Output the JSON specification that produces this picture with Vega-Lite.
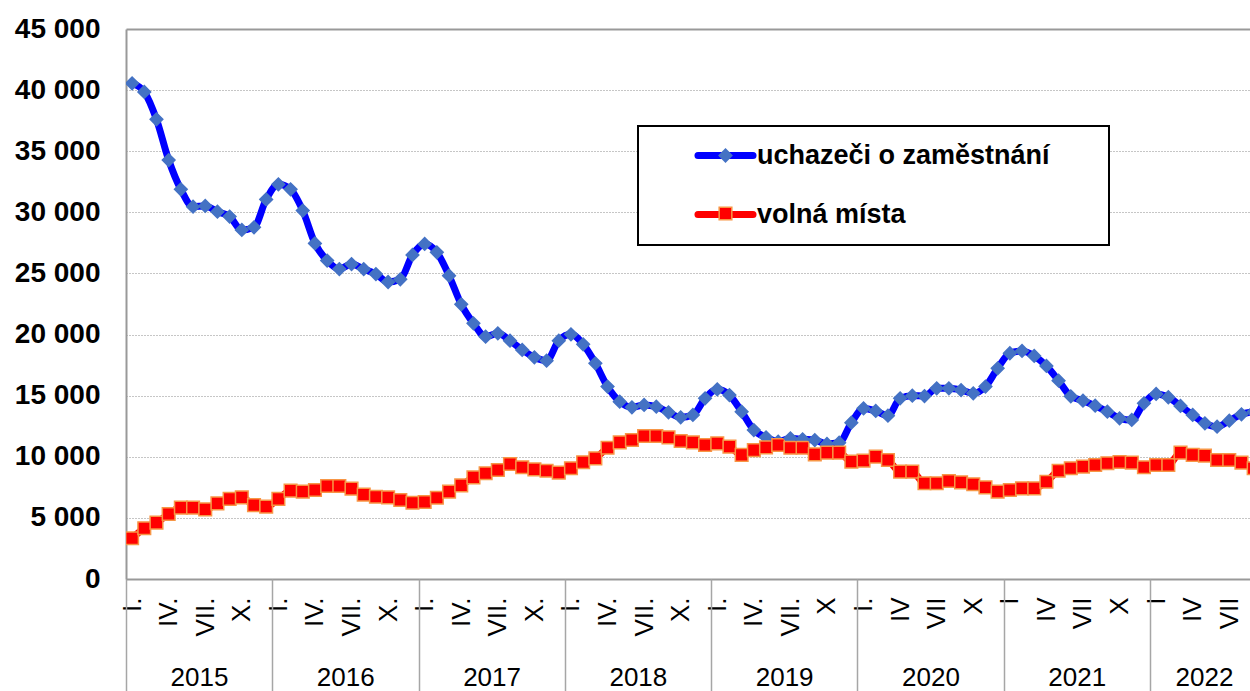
{
  "$schema": "https://vega.github.io/schema/vega-lite/v6.json",
  "width": 1124,
  "height": 550,
  "autosize": {"type": "none"},
  "padding": {"left": 126, "top": 29, "right": 0, "bottom": 112},
  "background": "white",
  "config": {"view": {"stroke": null}, "font": "Liberation Sans"},
  "data": {"values": [
    {"i":0,"rok":2015,"mesic":1,"uchazeči o zaměstnání":40560,"volná místa":3330},
    {"i":1,"rok":2015,"mesic":2,"uchazeči o zaměstnání":39850,"volná místa":4150},
    {"i":2,"rok":2015,"mesic":3,"uchazeči o zaměstnání":37610,"volná místa":4610},
    {"i":3,"rok":2015,"mesic":4,"uchazeči o zaměstnání":34280,"volná místa":5320},
    {"i":4,"rok":2015,"mesic":5,"uchazeči o zaměstnání":31880,"volná místa":5840},
    {"i":5,"rok":2015,"mesic":6,"uchazeči o zaměstnání":30460,"volná místa":5840},
    {"i":6,"rok":2015,"mesic":7,"uchazeči o zaměstnání":30520,"volná místa":5700},
    {"i":7,"rok":2015,"mesic":8,"uchazeči o zaměstnání":30050,"volná místa":6190},
    {"i":8,"rok":2015,"mesic":9,"uchazeči o zaměstnání":29650,"volná místa":6550},
    {"i":9,"rok":2015,"mesic":10,"uchazeči o zaměstnání":28560,"volná místa":6680},
    {"i":10,"rok":2015,"mesic":11,"uchazeči o zaměstnání":28770,"volná místa":6050},
    {"i":11,"rok":2015,"mesic":12,"uchazeči o zaměstnání":31060,"volná místa":5920},
    {"i":12,"rok":2016,"mesic":1,"uchazeči o zaměstnání":32290,"volná místa":6550},
    {"i":13,"rok":2016,"mesic":2,"uchazeči o zaměstnání":31880,"volná místa":7230},
    {"i":14,"rok":2016,"mesic":3,"uchazeči o zaměstnání":30140,"volná místa":7150},
    {"i":15,"rok":2016,"mesic":4,"uchazeči o zaměstnání":27460,"volná místa":7280},
    {"i":16,"rok":2016,"mesic":5,"uchazeči o zaměstnání":26050,"volná místa":7610},
    {"i":17,"rok":2016,"mesic":6,"uchazeči o zaměstnání":25360,"volná místa":7610},
    {"i":18,"rok":2016,"mesic":7,"uchazeči o zaměstnání":25770,"volná místa":7390},
    {"i":19,"rok":2016,"mesic":8,"uchazeči o zaměstnání":25360,"volná místa":6900},
    {"i":20,"rok":2016,"mesic":9,"uchazeči o zaměstnání":24950,"volná místa":6730},
    {"i":21,"rok":2016,"mesic":10,"uchazeči o zaměstnání":24300,"volná místa":6680},
    {"i":22,"rok":2016,"mesic":11,"uchazeči o zaměstnání":24520,"volná místa":6460},
    {"i":23,"rok":2016,"mesic":12,"uchazeči o zaměstnání":26510,"volná místa":6240},
    {"i":24,"rok":2017,"mesic":1,"uchazeči o zaměstnání":27410,"volná místa":6300},
    {"i":25,"rok":2017,"mesic":2,"uchazeči o zaměstnání":26730,"volná místa":6650},
    {"i":26,"rok":2017,"mesic":3,"uchazeči o zaměstnání":24820,"volná místa":7150},
    {"i":27,"rok":2017,"mesic":4,"uchazeči o zaměstnání":22470,"volná místa":7660},
    {"i":28,"rok":2017,"mesic":5,"uchazeči o zaměstnání":20920,"volná místa":8320},
    {"i":29,"rok":2017,"mesic":6,"uchazeči o zaměstnání":19830,"volná místa":8650},
    {"i":30,"rok":2017,"mesic":7,"uchazeči o zaměstnání":20100,"volná místa":8920},
    {"i":31,"rok":2017,"mesic":8,"uchazeči o zaměstnání":19500,"volná místa":9410},
    {"i":32,"rok":2017,"mesic":9,"uchazeči o zaměstnání":18740,"volná místa":9140},
    {"i":33,"rok":2017,"mesic":10,"uchazeči o zaměstnání":18140,"volná místa":8970},
    {"i":34,"rok":2017,"mesic":11,"uchazeči o zaměstnání":17860,"volná místa":8860},
    {"i":35,"rok":2017,"mesic":12,"uchazeči o zaměstnání":19500,"volná místa":8700},
    {"i":36,"rok":2018,"mesic":1,"uchazeči o zaměstnání":20020,"volná místa":9060},
    {"i":37,"rok":2018,"mesic":2,"uchazeči o zaměstnání":19200,"volná místa":9550},
    {"i":38,"rok":2018,"mesic":3,"uchazeči o zaměstnání":17650,"volná místa":9870},
    {"i":39,"rok":2018,"mesic":4,"uchazeči o zaměstnání":15740,"volná místa":10740},
    {"i":40,"rok":2018,"mesic":5,"uchazeči o zaměstnání":14510,"volná místa":11180},
    {"i":41,"rok":2018,"mesic":6,"uchazeči o zaměstnání":14050,"volná místa":11370},
    {"i":42,"rok":2018,"mesic":7,"uchazeči o zaměstnání":14240,"volná místa":11700},
    {"i":43,"rok":2018,"mesic":8,"uchazeči o zaměstnání":14100,"volná místa":11700},
    {"i":44,"rok":2018,"mesic":9,"uchazeči o zaměstnání":13640,"volná místa":11590},
    {"i":45,"rok":2018,"mesic":10,"uchazeči o zaměstnání":13230,"volná místa":11290},
    {"i":46,"rok":2018,"mesic":11,"uchazeči o zaměstnání":13420,"volná místa":11180},
    {"i":47,"rok":2018,"mesic":12,"uchazeči o zaměstnání":14780,"volná místa":10960},
    {"i":48,"rok":2019,"mesic":1,"uchazeči o zaměstnání":15520,"volná místa":11100},
    {"i":49,"rok":2019,"mesic":2,"uchazeči o zaměstnání":15050,"volná místa":10830},
    {"i":50,"rok":2019,"mesic":3,"uchazeči o zaměstnání":13690,"volná místa":10150},
    {"i":51,"rok":2019,"mesic":4,"uchazeči o zaměstnání":12190,"volná místa":10550},
    {"i":52,"rok":2019,"mesic":5,"uchazeči o zaměstnání":11590,"volná místa":10770},
    {"i":53,"rok":2019,"mesic":6,"uchazeči o zaměstnání":11240,"volná místa":10960},
    {"i":54,"rok":2019,"mesic":7,"uchazeči o zaměstnání":11510,"volná místa":10740},
    {"i":55,"rok":2019,"mesic":8,"uchazeči o zaměstnání":11430,"volná místa":10740},
    {"i":56,"rok":2019,"mesic":9,"uchazeči o zaměstnání":11370,"volná místa":10200},
    {"i":57,"rok":2019,"mesic":10,"uchazeči o zaměstnání":11050,"volná místa":10340},
    {"i":58,"rok":2019,"mesic":11,"uchazeči o zaměstnání":11150,"volná místa":10340},
    {"i":59,"rok":2019,"mesic":12,"uchazeči o zaměstnání":12790,"volná místa":9600},
    {"i":60,"rok":2020,"mesic":1,"uchazeči o zaměstnání":13960,"volná místa":9680},
    {"i":61,"rok":2020,"mesic":2,"uchazeči o zaměstnání":13750,"volná místa":10010},
    {"i":62,"rok":2020,"mesic":3,"uchazeči o zaměstnání":13360,"volná místa":9740},
    {"i":63,"rok":2020,"mesic":4,"uchazeči o zaměstnání":14780,"volná místa":8780},
    {"i":64,"rok":2020,"mesic":5,"uchazeči o zaměstnání":15000,"volná místa":8780},
    {"i":65,"rok":2020,"mesic":6,"uchazeči o zaměstnání":14970,"volná místa":7830},
    {"i":66,"rok":2020,"mesic":7,"uchazeči o zaměstnání":15600,"volná místa":7830},
    {"i":67,"rok":2020,"mesic":8,"uchazeči o zaměstnání":15600,"volná místa":8020},
    {"i":68,"rok":2020,"mesic":9,"uchazeči o zaměstnání":15460,"volná místa":7910},
    {"i":69,"rok":2020,"mesic":10,"uchazeči o zaměstnání":15190,"volná místa":7750},
    {"i":70,"rok":2020,"mesic":11,"uchazeči o zaměstnání":15740,"volná místa":7500},
    {"i":71,"rok":2020,"mesic":12,"uchazeči o zaměstnání":17240,"volná místa":7150},
    {"i":72,"rok":2021,"mesic":1,"uchazeči o zaměstnání":18470,"volná místa":7280},
    {"i":73,"rok":2021,"mesic":2,"uchazeči o zaměstnání":18660,"volná místa":7420},
    {"i":74,"rok":2021,"mesic":3,"uchazeči o zaměstnání":18250,"volná místa":7420},
    {"i":75,"rok":2021,"mesic":4,"uchazeči o zaměstnání":17430,"volná místa":7960},
    {"i":76,"rok":2021,"mesic":5,"uchazeči o zaměstnání":16230,"volná místa":8860},
    {"i":77,"rok":2021,"mesic":6,"uchazeči o zaměstnání":14950,"volná místa":9060},
    {"i":78,"rok":2021,"mesic":7,"uchazeči o zaměstnání":14590,"volná místa":9190},
    {"i":79,"rok":2021,"mesic":8,"uchazeči o zaměstnání":14180,"volná místa":9330},
    {"i":80,"rok":2021,"mesic":9,"uchazeči o zaměstnání":13690,"volná místa":9470},
    {"i":81,"rok":2021,"mesic":10,"uchazeči o zaměstnání":13150,"volná místa":9570},
    {"i":82,"rok":2021,"mesic":11,"uchazeči o zaměstnání":13010,"volná místa":9520},
    {"i":83,"rok":2021,"mesic":12,"uchazeči o zaměstnání":14370,"volná místa":9140},
    {"i":84,"rok":2022,"mesic":1,"uchazeči o zaměstnání":15140,"volná místa":9330},
    {"i":85,"rok":2022,"mesic":2,"uchazeči o zaměstnání":14870,"volná místa":9330},
    {"i":86,"rok":2022,"mesic":3,"uchazeči o zaměstnání":14160,"volná místa":10340},
    {"i":87,"rok":2022,"mesic":4,"uchazeči o zaměstnání":13420,"volná místa":10150},
    {"i":88,"rok":2022,"mesic":5,"uchazeči o zaměstnání":12740,"volná místa":10090},
    {"i":89,"rok":2022,"mesic":6,"uchazeči o zaměstnání":12460,"volná místa":9740},
    {"i":90,"rok":2022,"mesic":7,"uchazeči o zaměstnání":12950,"volná místa":9740},
    {"i":91,"rok":2022,"mesic":8,"uchazeči o zaměstnání":13470,"volná místa":9520},
    {"i":92,"rok":2022,"mesic":9,"uchazeči o zaměstnání":13690,"volná místa":9060}
  ]},
  "transform": [{"fold": ["uchazeči o zaměstnání", "volná místa"], "as": ["rada", "pocet"]}],
  "encoding": {
    "y": {"field": "pocet", "type": "quantitative",
      "scale": {"domain": [0, 45000], "nice": false, "zero": true},
      "axis": {"title": null, "values": [0,5000,10000,15000,20000,25000,30000,35000,40000,45000],
        "labelExpr": "replace(format(datum.value, ','), ',', ' ')",
        "grid": true,
        "gridColor": {"condition": {"test": "datum.value == 45000", "value": "#999999"}, "value": "#8c8c8c"},
        "gridDash": {"condition": {"test": "datum.value == 45000", "value": []}, "value": [1, 2]},
        "gridWidth": {"condition": {"test": "datum.value == 45000", "value": 2}, "value": 1},
        "ticks": false, "domain": true, "domainColor": "#999999", "domainWidth": 2,
        "labelFont": "Liberation Sans", "labelFontSize": 28, "labelFontWeight": "bold", "labelColor": "black",
        "labelPadding": 26, "labelBaseline": "middle", "labelFlush": false, "labelOverlap": false}}
  },
  "layer": [
    {
      "mark": {"type": "line", "interpolate": "monotone", "strokeWidth": 7, "strokeJoin": "round", "strokeCap": "round", "clip": true},
      "encoding": {
        "x": {"field": "i", "type": "quantitative",
          "scale": {"domain": [-0.5, 91.7], "nice": false, "zero": false},
          "axis": {"orient": "bottom", "title": null, "grid": false,
            "values": [0,3,6,9,12,15,18,21,24,27,30,33,36,39,42,45,48,51,54,57,60,63,66,69,72,75,78,81,84,87,90],
            "labelExpr": "(['I','IV','VII','X'][(datum.value % 12) / 3]) + ((datum.value <= 54 || datum.value == 60) ? '.' : '')",
            "labelAngle": 270, "labelAlign": "right", "labelBaseline": "middle", "labelPadding": 18,
            "ticks": false, "domain": true, "domainColor": "#999999", "domainWidth": 2,
            "labelFont": "Liberation Sans", "labelFontSize": 26, "labelColor": "black",
            "labelFlush": false, "labelOverlap": false, "labelBound": false}},
        "color": {"field": "rada", "type": "nominal",
          "scale": {"domain": ["uchazeči o zaměstnání", "volná místa"], "range": ["#0000FF", "#FF0000"]},
          "legend": {"orient": "none", "legendX": 512, "legendY": 97, "direction": "vertical",
            "title": "\u00a0", "titleOrient": "right", "titlePadding": 43, "titleFontSize": 10,
            "strokeColor": "black", "fillColor": "white", "padding": 16, "rowPadding": 30,
            "symbolType": "M-4.35,0H4.35", "symbolSize": 160, "symbolStrokeWidth": 7, "symbolOffset": 58,
            "labelOffset": 18, "labelFont": "Liberation Sans", "labelFontSize": 27, "labelFontWeight": "bold",
            "labelColor": "black", "labelLimit": 700, "zindex": 0,
            "encode": {"legend": {"update": {"strokeWidth": {"value": 2}}}, "symbols": {"update": {"strokeCap": {"value": "round"}}}}}}
      }
    },
    {
      "mark": {"type": "point", "filled": true, "size": 160, "strokeWidth": 1.5, "opacity": 1, "clip": true},
      "encoding": {
        "x": {"field": "i", "type": "quantitative",
          "scale": {"domain": [-0.5, 91.7], "nice": false, "zero": false},
          "axis": {"orient": "bottom", "title": null, "grid": false,
            "values": [-0.5, 11.5, 23.5, 35.5, 47.5, 59.5, 71.5, 83.5],
            "labelExpr": "'' + (2015 + round((datum.value + 0.5) / 12))",
            "ticks": true, "tickSize": 112, "tickColor": "#a6a6a6", "tickWidth": 1.5, "domain": false,
            "labelPadding": -14, "labelBaseline": "middle", "labelAlign": "center", "labelAngle": 0,
            "labelOffset": {"condition": {"test": "datum.value > 80", "value": 54}, "value": 73},
            "labelFont": "Liberation Sans", "labelFontSize": 26, "labelColor": "black",
            "labelFlush": false, "labelOverlap": false, "labelBound": false}},
        "fill": {"field": "rada", "type": "nominal",
          "scale": {"range": ["#4472C4", "#FF0000"]},
          "legend": {"orient": "none", "legendX": 512, "legendY": 97, "title": null, "direction": "vertical",
            "padding": 16, "rowPadding": 30, "symbolSize": 160, "symbolStrokeWidth": 1.5, "symbolOffset": 58,
            "labelExpr": "'\u00a0'", "labelOffset": 18, "labelFont": "Liberation Sans", "labelFontSize": 27, "labelFontWeight": "bold",
            "labelColor": "black", "labelLimit": 700, "zindex": 1}},
        "stroke": {"field": "rada", "type": "nominal",
          "scale": {"range": ["#4472C4", "#F79646"]},
          "legend": {"orient": "none", "legendX": 512, "legendY": 97, "title": null, "direction": "vertical",
            "padding": 16, "rowPadding": 30, "symbolSize": 160, "symbolStrokeWidth": 1.5, "symbolOffset": 58,
            "labelExpr": "'\u00a0'", "labelOffset": 18, "labelFont": "Liberation Sans", "labelFontSize": 27, "labelFontWeight": "bold",
            "labelColor": "black", "labelLimit": 700, "zindex": 1}},
        "shape": {"field": "rada", "type": "nominal",
          "scale": {"range": ["diamond", "square"]},
          "legend": {"orient": "none", "legendX": 512, "legendY": 97, "title": null, "direction": "vertical",
            "padding": 16, "rowPadding": 30, "symbolSize": 160, "symbolStrokeWidth": 1.5, "symbolOffset": 58,
            "labelExpr": "'\u00a0'", "labelOffset": 18, "labelFont": "Liberation Sans", "labelFontSize": 27, "labelFontWeight": "bold",
            "labelColor": "black", "labelLimit": 700, "zindex": 1}}
      }
    }
  ],
  "resolve": {"axis": {"x": "independent"}}
}
